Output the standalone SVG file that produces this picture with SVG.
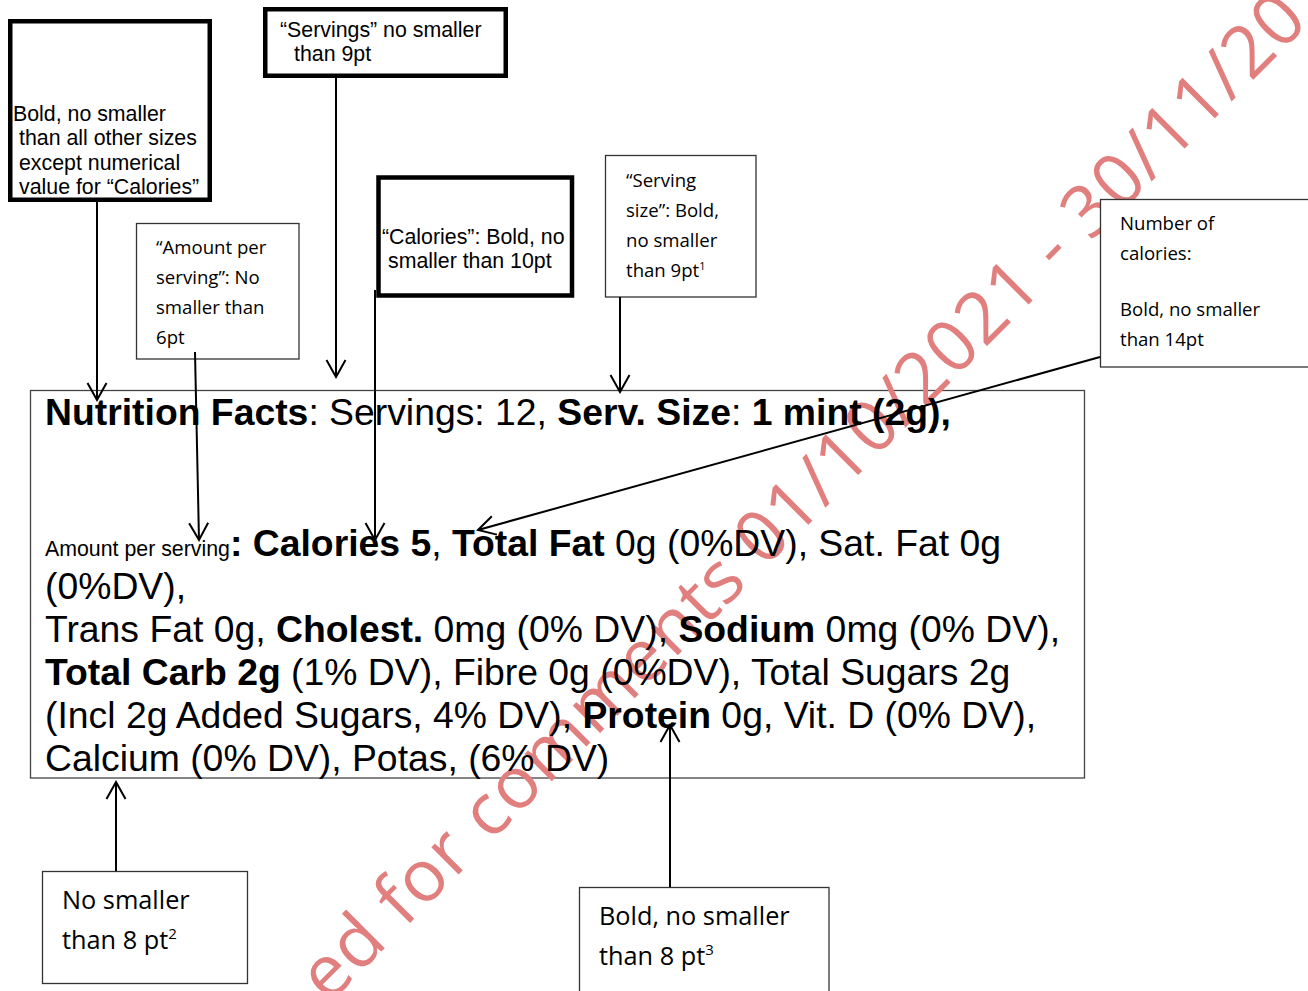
<svg xmlns="http://www.w3.org/2000/svg" width="1308" height="991" viewBox="0 0 1308 991">
<style>
.ar{font-family:"Liberation Sans",Arial,sans-serif;fill:#000}
.ca{font-family:"Open Sans","Noto Sans",sans-serif;fill:#000}
.b{font-weight:bold}
.thick{fill:#fff;stroke:#000;stroke-width:4.5}
.thin{fill:#fff;stroke:#333;stroke-width:1.3}
.conn{stroke:#000;stroke-width:2;fill:none;marker-end:url(#v)}
.wm{font-family:"Open Sans","Noto Sans",sans-serif;fill:#E17F7F}
</style>
<defs>
<marker id="v" viewBox="-20 -12 22 24" refX="0" refY="0" markerWidth="22" markerHeight="24" orient="auto" markerUnits="userSpaceOnUse">
<path d="M-17,-9.5 L0,0 L-17,9.5" fill="none" stroke="#000" stroke-width="2"/>
</marker>
</defs>
<rect width="1308" height="991" fill="#fff"/>
<g id="label">
<rect x="30.5" y="390.5" width="1054" height="387.5" fill="none" stroke="#444" stroke-width="1.3"/>
</g>
<text class="wm" x="328.5" y="1004.5" font-size="72" textLength="1388" lengthAdjust="spacing" transform="rotate(-45 328.5 1004.5)">ed for comments 01/10/2021 - 30/11/20</text>
<g id="label-text" class="ar" font-size="37.33">
<text x="45" y="425"><tspan class="b">Nutrition Facts</tspan>: Servings: 12, <tspan class="b">Serv. Size</tspan>: <tspan class="b">1 mint (2g),</tspan></text>
<text x="45" y="556"><tspan font-size="21.33">Amount per serving</tspan><tspan class="b">: Calories 5</tspan>, <tspan class="b">Total Fat</tspan> 0g (0%DV), Sat. Fat 0g</text>
<text x="45" y="599">(0%DV),</text>
<text x="45" y="642">Trans Fat 0g, <tspan class="b">Cholest.</tspan> 0mg (0% DV), <tspan class="b">Sodium</tspan> 0mg (0% DV),</text>
<text x="45" y="685"><tspan class="b">Total Carb 2g</tspan> (1% DV), Fibre 0g (0%DV), Total Sugars 2g</text>
<text x="45" y="728">(Incl 2g Added Sugars, 4% DV), <tspan class="b">Protein</tspan> 0g, Vit. D (0% DV),</text>
<text x="45" y="771">Calcium (0% DV), Potas, (6% DV)</text>
</g>
<g id="note-bold-calories-label">
<rect class="thick" x="10.25" y="21.25" width="199.5" height="178.5"/>
<text class="ar" font-size="21.33"><tspan x="13" y="120.5">Bold, no smaller</tspan><tspan x="19" y="145">than all other sizes</tspan><tspan x="19" y="169.5">except numerical</tspan><tspan x="19" y="194">value for “Calories”</tspan></text>
</g>
<g id="note-servings">
<rect class="thick" x="265.25" y="9.25" width="240.5" height="66.5"/>
<text class="ar" font-size="21.33"><tspan x="280" y="37">“Servings” no smaller</tspan><tspan x="294" y="61">than 9pt</tspan></text>
</g>
<g id="note-amount">
<rect class="thin" x="136.5" y="223.5" width="162.5" height="135.5"/>
<text class="ca" font-size="18.6"><tspan x="156" y="254">“Amount per</tspan><tspan x="156" y="284">serving”: No</tspan><tspan x="156" y="314">smaller than</tspan><tspan x="156" y="344">6pt</tspan></text>
</g>
<g id="note-calories">
<rect class="thick" x="378.5" y="177.5" width="193.5" height="118"/>
<text class="ar" font-size="21.33"><tspan x="382" y="244">“Calories”: Bold, no</tspan><tspan x="388" y="268">smaller than 10pt</tspan></text>
</g>
<g id="note-serving-size">
<rect class="thin" x="605.5" y="155.5" width="150.5" height="141.5"/>
<text class="ca" font-size="18.6"><tspan x="626" y="187">“Serving</tspan><tspan x="626" y="217">size”: Bold,</tspan><tspan x="626" y="247">no smaller</tspan><tspan x="626" y="277">than 9pt<tspan font-size="11" dy="-7">1</tspan></tspan></text>
</g>
<g id="note-number-calories">
<rect class="thin" x="1100.5" y="199.5" width="220" height="167.5"/>
<text class="ca" font-size="18.6"><tspan x="1120" y="230">Number of</tspan><tspan x="1120" y="260">calories:</tspan><tspan x="1120" y="316">Bold, no smaller</tspan><tspan x="1120" y="346">than 14pt</tspan></text>
</g>
<g id="note-8pt">
<rect class="thin" x="42.5" y="871.5" width="205" height="112"/>
<text class="ca" font-size="25.3"><tspan x="62" y="909">No smaller</tspan><tspan x="62" y="949">than 8 pt<tspan font-size="15" dy="-10">2</tspan></tspan></text>
</g>
<g id="note-bold-8pt">
<rect class="thin" x="579.5" y="887.5" width="249.5" height="110"/>
<text class="ca" font-size="25.3"><tspan x="599" y="925">Bold, no smaller</tspan><tspan x="599" y="965">than 8 pt<tspan font-size="15" dy="-10">3</tspan></tspan></text>
</g>
<g id="connectors">
<path class="conn" d="M97,202 L97,400"/>
<path class="conn" d="M336,78 L336,377"/>
<path class="conn" d="M195,352 L199,540"/>
<path class="conn" d="M375,290 L375,540"/>
<path class="conn" d="M620,297 L620,392"/>
<path class="conn" d="M1100,357 L478,530"/>
<path class="conn" d="M116,871 L116,782"/>
<path class="conn" d="M670,887 L670,725"/>
</g>
</svg>
